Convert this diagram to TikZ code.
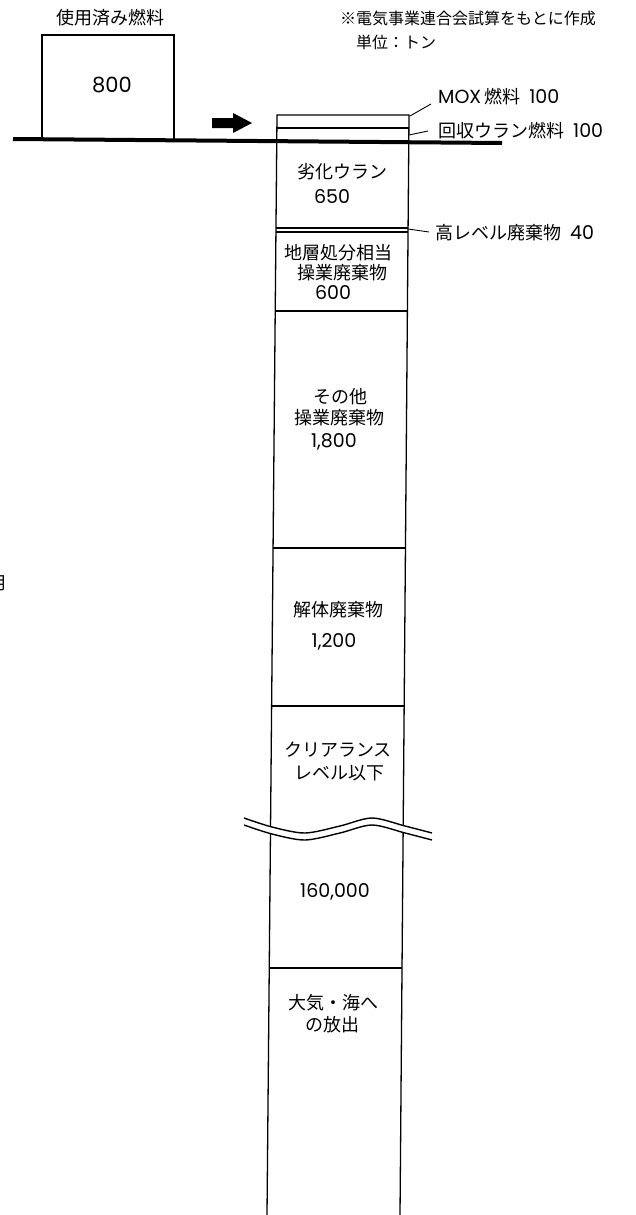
\documentclass[tikz,border=0pt]{standalone}
\usepackage{fontspec}
\setmainfont{Noto Sans CJK JP}
\newfontfamily\lat{Poppins}
\usetikzlibrary{calc}
\newcommand{\dg}[1]{{\fontsize{19}{20}\selectfont\lat #1}}
\newcommand{\gap}{\hspace{9pt}}
\begin{document}
\begin{tikzpicture}[x=1pt,y=-1pt,
  jtxt/.style={inner sep=0pt,font=\fontsize{18}{20}\selectfont},
  ntxt/.style={inner sep=0pt,font=\fontsize{19}{20}\selectfont\lat},
  small/.style={inner sep=0pt,font=\fontsize{16}{18}\selectfont},
  colline/.style={line width=1.3pt},
  sepline/.style={line width=1.1pt},
  leader/.style={line width=0.9pt},
  ground/.style={line width=4pt},
  wave/.style={line width=1.4pt}]
\useasboundingbox (0,0) rectangle (636,1215);
% spent fuel box
\node[jtxt] (spent) at (110,18) {使用済み燃料};
\draw[line width=1.1pt] (42,139) -- (42,35) -- (174,35) -- (174,139);
\node[ntxt,font=\fontsize{21}{22}\selectfont\lat] (n800) at (112,85) {800};
% arrow
\fill (212,118) -- (233,118) -- (233,113) -- (252,123) -- (233,133) -- (233,128) -- (212,128) -- cycle;
% notes
\node[small,anchor=west] (src) at (340,18) {※電気事業連合会試算をもとに作成};
\node[small,anchor=west] (unit) at (356,42) {単位：トン};
% column
\coordinate (TL) at (277,115);
\coordinate (TR) at (409,115);
\coordinate (BL) at (267,1215);
\coordinate (BR) at (400,1215);
\draw[colline] (BL) -- (TL) -- (TR) -- (BR);
\foreach \yy in {128,228,232,311,548,706,968}
  \draw[sepline] ({277-10*(\yy-115)/1100},\yy) -- ({409-9*(\yy-115)/1100},\yy);
% ground line
\draw[ground] (13,139) -- (502,143);
% wave break
\fill[white] plot[smooth] coordinates {(244,818) (272,827) (305,833) (340,826) (372,818) (405,826) (432,833)}
  -- plot[smooth] coordinates {(432,840) (405,833) (372,825) (340,833) (305,840) (272,834) (244,825)} -- cycle;
\draw[wave] plot[smooth] coordinates {(244,818) (272,827) (305,833) (340,826) (372,818) (405,826) (432,833)};
\draw[wave] plot[smooth] coordinates {(244,825) (272,834) (305,840) (340,833) (372,825) (405,833) (432,840)};
% side labels
\node[jtxt,anchor=west] (mox) at (438,97) {\dg{MOX}\hspace{3pt}燃料\gap\dg{100}};
\node[jtxt,anchor=west] (ru) at (438,131) {回収ウラン燃料\gap\dg{100}};
\node[jtxt,anchor=west] (hlw) at (435,233) {高レベル廃棄物\gap\dg{40}};
\coordinate (moxA) at (410,116);
\coordinate (ruA) at (409,135);
\coordinate (hlwA) at (408,229);
\draw[leader] (moxA) -- ($(mox.west)+(-7,7)$);
\draw[leader] (ruA) -- ($(ru.west)+(-10,0)$);
\draw[leader] (hlwA) -- ($(hlw.west)+(-6,-1)$);
% column texts
\node[jtxt] (du1) at (342,172) {劣化ウラン};
\node[ntxt] (du2) at (332,197) {650};
\node[jtxt] (gd1) at (338,253) {地層処分相当};
\node[jtxt] (gd2) at (342,273) {操業廃棄物};
\node[ntxt] (gd3) at (333,293) {600};
\node[jtxt] (ot1) at (340,397) {その他};
\node[jtxt] (ot2) at (339,418) {操業廃棄物};
\node[ntxt] (ot3) at (334,442) {1,800};
\node[jtxt] (dm1) at (338,610) {解体廃棄物};
\node[ntxt] (dm2) at (334,642) {1,200};
\node[jtxt] (cl1) at (338,750) {クリアランス};
\node[jtxt] (cl2) at (339,773) {レベル以下};
\node[ntxt] (cl3) at (335,892) {160,000};
\node[jtxt] (ai1) at (333,1003) {大気・海へ};
\node[jtxt] (ai2) at (332,1025) {の放出};
% cut-off character at left edge
\node[jtxt] (edge) at (-3,583) {用};
\end{tikzpicture}
\end{document}
